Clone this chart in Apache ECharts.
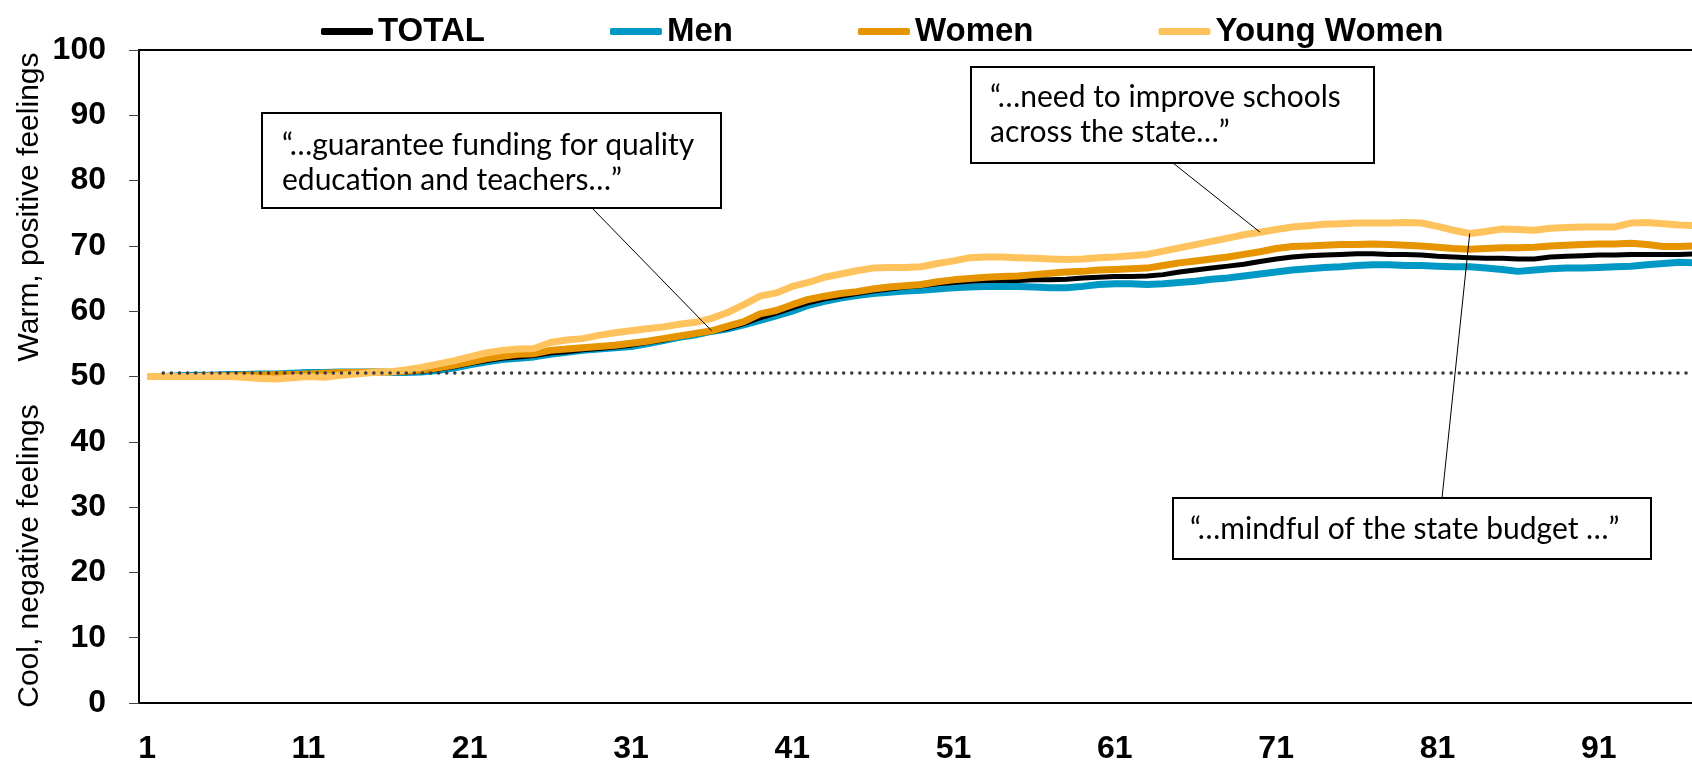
<!DOCTYPE html>
<html lang="en" style="height: 100%">
<head>
  <meta charset="utf-8">
  <title>Dial trace</title>
</head>
<body style="height: 100%; margin: 0">
  <div id="container" style="width: 1692px; height: 766px"></div>

  <script type="text/javascript" src="https://cdn.jsdelivr.net/npm/echarts@6/dist/echarts.min.js"></script>
  <script type="text/javascript">
    var dom = document.getElementById('container');
    var myChart = echarts.init(dom, null, { renderer: 'canvas' });

    // x axis: seconds 1..100 (chart is cropped on the right)
    const categories = [];
    for (let i = 1; i <= 100; i++) categories.push(String(i));

    const totalData = [
      50, 50, 50, 50, 50.1, 50.1, 50.2, 50.2, 50.3, 50.3,
      50.4, 50.5, 50.5, 50.6, 50.6, 50.6, 50.7, 50.8, 51.1, 51.5,
      52.0, 52.4, 52.8, 53.0, 53.2, 53.6, 53.8, 54.1, 54.3, 54.5,
      54.8, 55.2, 55.6, 56.1, 56.5, 56.9, 57.4, 58.1, 59.0, 59.7,
      60.5, 61.3, 61.9, 62.3, 62.7, 63.1, 63.4, 63.7, 63.9, 64.2,
      64.4, 64.6, 64.7, 64.7, 64.7, 64.8, 64.8, 64.9, 65.1, 65.2,
      65.3, 65.3, 65.4, 65.6, 66.0, 66.3, 66.6, 66.9, 67.2, 67.6,
      68.0, 68.3, 68.5, 68.6, 68.7, 68.8, 68.8, 68.7, 68.7, 68.6,
      68.4, 68.3, 68.2, 68.1, 68.1, 68.0, 68.0, 68.3, 68.4, 68.5,
      68.6, 68.6, 68.7, 68.7, 68.7, 68.7, 68.8, 68.8
    ];
    const menData = [
      50, 50, 50.1, 50.2, 50.2, 50.3, 50.3, 50.4, 50.4, 50.5,
      50.6, 50.6, 50.7, 50.7, 50.7, 50.6, 50.6, 50.7, 50.9, 51.3,
      51.8, 52.2, 52.6, 52.8, 53.0, 53.4, 53.7, 54.0, 54.2, 54.4,
      54.6, 55.0, 55.5, 56.0, 56.4, 56.9, 57.3, 57.9, 58.6, 59.3,
      60.0, 60.9, 61.5, 62.0, 62.4, 62.7, 62.9, 63.1, 63.2, 63.4,
      63.6, 63.7, 63.8, 63.8, 63.8, 63.7, 63.6, 63.6, 63.8, 64.1,
      64.2, 64.2, 64.1, 64.2, 64.4, 64.6, 64.9, 65.1, 65.4, 65.7,
      66.0, 66.3, 66.5, 66.7, 66.8, 67.0, 67.1, 67.1, 67.0, 67.0,
      66.9, 66.8, 66.8, 66.6, 66.4, 66.1, 66.3, 66.5, 66.6, 66.6,
      66.7, 66.8, 66.9, 67.1, 67.3, 67.5, 67.4, 67.4
    ];
    const womenData = [
      50, 50, 50, 50, 50.1, 50.1, 50.2, 50.2, 50.3, 50.3,
      50.4, 50.5, 50.6, 50.6, 50.7, 50.7, 50.8, 51.0, 51.3, 51.7,
      52.2, 52.7, 53.1, 53.4, 53.5, 54.0, 54.2, 54.4, 54.6, 54.8,
      55.1, 55.4, 55.8, 56.2, 56.6, 57.0, 57.7, 58.4, 59.6, 60.1,
      61.0, 61.8, 62.3, 62.7, 63.0, 63.4, 63.7, 63.9, 64.1, 64.5,
      64.8, 65.0, 65.2, 65.3, 65.4, 65.6, 65.8, 66.0, 66.1, 66.3,
      66.4, 66.5, 66.6, 67.0, 67.4, 67.7, 68.0, 68.3, 68.7, 69.1,
      69.6, 69.9, 70.0, 70.1, 70.2, 70.2, 70.3, 70.2, 70.1, 70.0,
      69.8, 69.6, 69.5, 69.6, 69.7, 69.7, 69.8, 70.0, 70.1, 70.2,
      70.3, 70.3, 70.4, 70.2, 69.9, 69.9, 70.0, 70.0
    ];
    const youngWomenData = [
      50, 50, 50, 50, 50, 50, 49.9, 49.7, 49.6, 49.8,
      50, 49.9, 50.2, 50.4, 50.6, 50.7, 51.0, 51.4, 51.9, 52.4,
      53.0, 53.6, 54.0, 54.2, 54.3, 55.2, 55.6, 55.8, 56.3, 56.7,
      57.0, 57.3, 57.6, 58.0, 58.3, 58.9, 59.8, 61.0, 62.3, 62.8,
      63.8, 64.4, 65.2, 65.7, 66.2, 66.6, 66.7, 66.7, 66.8, 67.3,
      67.7, 68.2, 68.3, 68.3, 68.2, 68.1, 68.0, 67.9, 68.0, 68.2,
      68.3, 68.5, 68.7, 69.2, 69.7, 70.2, 70.7, 71.2, 71.7, 72.1,
      72.5, 72.9, 73.1, 73.3, 73.4, 73.5, 73.5, 73.5, 73.6, 73.5,
      73.0, 72.4, 71.9, 72.2, 72.6, 72.5, 72.4, 72.7, 72.8, 72.9,
      72.9, 72.9, 73.5, 73.6, 73.4, 73.2, 73.1, 73.0
    ];
    const neutralLevel = 50.5;

    // quotes and the point each callout points at: [category, series]
    const quotes = [
      { text: '\u201c\u2026guarantee funding for quality\neducation and teachers\u2026\u201d', at: ['36', 'Women'] },
      { text: '\u201c\u2026need to improve schools\nacross the state\u2026\u201d', at: ['70', 'Young Women'] },
      { text: '\u201c\u2026mindful of the state budget \u2026\u201d', at: ['83', 'Young Women'] }
    ];
    // layout of the callout boxes (pixels)
    const boxes = [
      { x: 262, y: 113, w: 459, h: 95, tx: 282, ty: 163, from: [592, 208] },
      { x: 971, y: 67, w: 403, h: 96, tx: 990, ty: 115, from: [1173, 163] },
      { x: 1173, y: 498, w: 478, h: 61, tx: 1190, ty: 529, from: [1442, 498] }
    ];

    const seriesData = {
      'TOTAL': totalData,
      'Men': menData,
      'Women': womenData,
      'Young Women': youngWomenData
    };

    var option = {
      animation: false,
      legend: {
        left: 316,
        top: 10,
        itemWidth: 52,
        itemHeight: 7,
        itemGap: 125,
        icon: 'roundRect',
        textStyle: { fontFamily: 'Liberation Sans', fontWeight: 'bold', fontSize: 33, color: '#000' },
        data: ['TOTAL', 'Men', 'Women', 'Young Women']
      },
      grid: {
        left: 139,
        top: 50,
        bottom: 63,
        width: 1613,
        outerBoundsMode: 'none',
        containLabel: false,
        show: true,
        borderColor: '#000',
        borderWidth: 2
      },
      xAxis: {
        type: 'category',
        data: categories,
        boundaryGap: true,
        axisLine: { lineStyle: { color: '#000', width: 2 } },
        axisTick: { interval: 0, length: 11, lineStyle: { color: '#444', width: 1 } },
        axisLabel: {
          interval: 9,
          margin: 30,
          fontFamily: 'Liberation Sans',
          fontWeight: 'bold',
          fontSize: 32,
          color: '#000'
        },
        splitLine: { show: false }
      },
      yAxis: {
        type: 'value',
        min: 0,
        max: 100,
        interval: 10,
        axisLine: { show: true, lineStyle: { color: '#000', width: 2 } },
        axisTick: { show: true, length: 10, lineStyle: { color: '#444', width: 1 } },
        axisLabel: {
          margin: 33,
          fontFamily: 'Liberation Sans',
          fontWeight: 'bold',
          fontSize: 32,
          color: '#000'
        },
        splitLine: { show: false }
      },
      series: [
        {
          name: 'TOTAL', type: 'line', data: totalData, symbol: 'none', z: 3,
          color: '#000', lineStyle: { width: 5, color: '#000' },
          markLine: {
            silent: true,
            symbol: 'none',
            label: { show: false },
            lineStyle: { color: '#3c3c3c', width: 3.5, type: [0.1, 8], cap: 'round' },
            data: [[{ coord: ['2', neutralLevel] }, { coord: ['100', neutralLevel] }]],
            z: 10
          }
        },
        {
          name: 'Men', type: 'line', data: menData, symbol: 'none', z: 2,
          color: '#0099C6', lineStyle: { width: 7, color: '#0099C6' }
        },
        {
          name: 'Women', type: 'line', data: womenData, symbol: 'none', z: 4,
          color: '#E69500', lineStyle: { width: 7, color: '#E69500' }
        },
        {
          name: 'Young Women', type: 'line', data: youngWomenData, symbol: 'none', z: 5,
          color: '#FFC35E', lineStyle: { width: 7, color: '#FFC35E' }
        }
      ]
    };

    myChart.setOption(option);

    // side titles and quote callouts
    var graphics = [
      {
        type: 'text', x: 30, y: 207, rotation: Math.PI / 2, z: 50,
        style: { text: 'Warm, positive feelings', font: '30px "Liberation Sans"', fill: '#000', align: 'center', verticalAlign: 'middle' }
      },
      {
        type: 'text', x: 30, y: 556, rotation: Math.PI / 2, z: 50,
        style: { text: 'Cool, negative feelings', font: '30px "Liberation Sans"', fill: '#000', align: 'center', verticalAlign: 'middle' }
      }
    ];
    quotes.forEach(function (q, i) {
      var b = boxes[i];
      var idx = categories.indexOf(q.at[0]);
      var val = seriesData[q.at[1]][idx];
      var pt = myChart.convertToPixel({ xAxisIndex: 0, yAxisIndex: 0 }, [idx, val]);
      graphics.push({
        type: 'line', z: 60,
        shape: { x1: b.from[0], y1: b.from[1], x2: pt[0], y2: pt[1] },
        style: { stroke: '#000', lineWidth: 1 }
      });
      graphics.push({
        type: 'rect', z: 61,
        shape: { x: b.x, y: b.y, width: b.w, height: b.h },
        style: { fill: '#fff', stroke: '#000', lineWidth: 2 }
      });
      graphics.push({
        type: 'text', z: 62, x: b.tx, y: b.ty,
        style: { text: q.text, font: '30px Lato', fill: '#000', lineHeight: 35, verticalAlign: 'middle' }
      });
    });
    myChart.setOption({ graphic: graphics });

    window.addEventListener('resize', myChart.resize);
  </script>
</body>
</html>
